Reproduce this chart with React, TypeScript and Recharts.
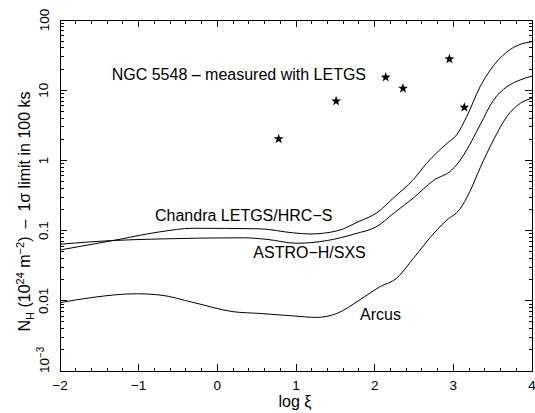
import React from 'react';
import { ComposedChart, Line, Scatter, XAxis, YAxis } from 'recharts';

const FONT = '"Liberation Sans", Arial, Helvetica, sans-serif';

// Chandra LETGS/HRC-S
const chandraX = [-2, -1.36, -0.73, -0.31, 0.54, 0.96, 1.18, 1.52, 1.8, 2.03, 2.25, 2.49, 2.66, 2.92, 3.04, 3.17, 3.34, 3.47, 3.68, 3.85, 4.0];
const chandraY = [0.053, 0.071, 0.096, 0.108, 0.106, 0.093, 0.0895, 0.099, 0.135, 0.18, 0.3, 0.53, 0.91, 1.75, 2.3, 4.2, 11.2, 19.4, 35, 45, 49];

// ASTRO-H/SXS
const astroX = [-2, -1.36, -0.73, 0.33, 0.63, 1.01, 1.39, 1.75, 2.03, 2.25, 2.49, 2.75, 2.98, 3.04, 3.17, 3.34, 3.51, 3.68, 3.85, 4.0];
const astroY = [0.064, 0.072, 0.076, 0.079, 0.075, 0.066, 0.072, 0.09, 0.115, 0.18, 0.29, 0.52, 0.73, 0.86, 1.41, 3.2, 7.2, 11.2, 14, 15.9];

// Arcus
const arcusX = [-2, -1.58, -1.03, -0.73, -0.31, 0.2, 0.54, 0.96, 1.26, 1.52, 1.81, 2.07, 2.28, 2.49, 2.79, 2.92, 3.08, 3.21, 3.34, 3.51, 3.68, 3.85, 4.0];
const arcusY = [0.0094, 0.0112, 0.0126, 0.0121, 0.0095, 0.007, 0.0066, 0.0061, 0.0058, 0.0066, 0.0103, 0.0159, 0.021, 0.04, 0.102, 0.142, 0.2, 0.36, 0.78, 1.95, 4.2, 6.5, 7.7];

// NGC 5548 measured with LETGS
const ngcX = [0.78, 1.51, 2.14, 2.36, 2.95, 3.14];
const ngcY = [2.02, 7.0, 15.3, 10.6, 27.8, 5.7];

const xMajorTicks = [-2, -1, 0, 1, 2, 3, 4];
const xTickLabels = ['\u22122', '\u22121', '0', '1', '2', '3', '4'];
const yMajorTicks = [0.001, 0.01, 0.1, 1, 10, 100];
const yTickLabels = ['10^-3', '0.01', '0.1', '1', '10', '100'];
const minorMultipliers = [2, 3, 4, 5, 6, 7, 8, 9];

const X_DOMAIN = [-2, 4];
const Y_DOMAIN = [0.001, 100];

const toPoints = (xs: number[], ys: number[]) => xs.map((x, i) => ({ x, y: ys[i] }));
const chandraData = toPoints(chandraX, chandraY);
const astroData = toPoints(astroX, astroY);
const arcusData = toPoints(arcusX, arcusY);
const ngcData = toPoints(ngcX, ngcY);

// layout
const W = 535;
const H = 413;
const PLOT = { left: 60, top: 20, right: 532, bottom: 371 };
const MAJ = 7;
const MIN = 3.5;

const xPx = (v: number) => PLOT.left + ((v - X_DOMAIN[0]) / (X_DOMAIN[1] - X_DOMAIN[0])) * (PLOT.right - PLOT.left);
const yPx = (v: number) => {
  const l0 = Math.log10(Y_DOMAIN[0]);
  const l1 = Math.log10(Y_DOMAIN[1]);
  return PLOT.bottom - ((Math.log10(v) - l0) / (l1 - l0)) * (PLOT.bottom - PLOT.top);
};

// frame + ticks (inward, all four sides) as one path
const buildFramePath = () => {
  const parts: string[] = [];
  parts.push(`M${PLOT.left},${PLOT.top}H${PLOT.right}V${PLOT.bottom}H${PLOT.left}Z`);
  for (let i = 0; i < xMajorTicks.length; i++) {
    const maj = xMajorTicks[i];
    const px = xPx(maj);
    parts.push(`M${px},${PLOT.bottom}v${-MAJ}M${px},${PLOT.top}v${MAJ}`);
    if (i < xMajorTicks.length - 1) {
      for (let k = 1; k < 5; k++) {
        const mx = xPx(maj + k * 0.2);
        parts.push(`M${mx},${PLOT.bottom}v${-MIN}M${mx},${PLOT.top}v${MIN}`);
      }
    }
  }
  for (let i = 0; i < yMajorTicks.length; i++) {
    const d = yMajorTicks[i];
    const py = yPx(d);
    parts.push(`M${PLOT.left},${py}h${MAJ}M${PLOT.right},${py}h${-MAJ}`);
    if (i < yMajorTicks.length - 1) {
      minorMultipliers.forEach((m) => {
        const my = yPx(d * m);
        parts.push(`M${PLOT.left},${my}h${MIN}M${PLOT.right},${my}h${-MIN}`);
      });
    }
  }
  return parts.join('');
};
const framePath = buildFramePath();

const BottomTick = (props: any) => {
  const { x, y, payload } = props;
  const idx = xMajorTicks.findIndex((t) => Math.abs(t - payload.value) < 1e-6);
  if (idx < 0) return null;
  return (
    <text x={x} y={y + 18.5} textAnchor="middle" fontSize={13.5} fontFamily={FONT} fill="#000">
      {xTickLabels[idx]}
    </text>
  );
};

const LeftTick = (props: any) => {
  const { x, y, payload } = props;
  const idx = yMajorTicks.findIndex((t) => Math.abs(Math.log10(t) - Math.log10(payload.value)) < 1e-6);
  if (idx < 0) return null;
  const lx = x - 11.5;
  const txt = yTickLabels[idx];
  if (txt === '10^-3') {
    return (
      <text x={lx} y={y + 2} textAnchor="start" fontSize={13.5} fontFamily={FONT} fill="#000" transform={`rotate(-90, ${lx}, ${y + 2})`}>
        10<tspan dy={-5} fontSize={10}>{'\u22123'}</tspan>
      </text>
    );
  }
  return (
    <text x={lx} y={y} textAnchor="middle" fontSize={13.5} fontFamily={FONT} fill="#000" transform={`rotate(-90, ${lx}, ${y})`}>
      {txt}
    </text>
  );
};

const StarShape = (props: any) => {
  const { cx, cy } = props;
  if (cx == null || cy == null) return null;
  const R = 5.2;
  const r = 2.1;
  const pts: string[] = [];
  for (let i = 0; i < 10; i++) {
    const a = -Math.PI / 2 + (i * Math.PI) / 5;
    const rr = i % 2 === 0 ? R : r;
    pts.push(`${cx + rr * Math.cos(a)},${cy + rr * Math.sin(a)}`);
  }
  return <polygon points={pts.join(' ')} fill="#000" stroke="none" />;
};

export default function App() {
  return (
    <div style={{ position: 'absolute', left: 0, top: 0, width: W, height: H, overflow: 'hidden', background: '#fff' }}>
      <ComposedChart width={W} height={H} margin={{ top: PLOT.top, right: W - PLOT.right, bottom: 0, left: 0 }}>
        <XAxis xAxisId="b" dataKey="x" type="number" domain={X_DOMAIN} allowDataOverflow ticks={xMajorTicks} interval={0} orientation="bottom" height={H - PLOT.bottom} tickSize={0} tickMargin={0} tickLine={false} tick={<BottomTick />} axisLine={false} />
        <YAxis yAxisId="l" dataKey="y" type="number" scale="log" domain={Y_DOMAIN} allowDataOverflow ticks={yMajorTicks} interval={0} orientation="left" width={PLOT.left} tickSize={0} tickMargin={0} tickLine={false} tick={<LeftTick />} axisLine={false} />
        <Line xAxisId="b" yAxisId="l" data={chandraData} dataKey="y" type="monotone" stroke="#000" strokeWidth={1} dot={false} activeDot={false} isAnimationActive={false} />
        <Line xAxisId="b" yAxisId="l" data={astroData} dataKey="y" type="monotone" stroke="#000" strokeWidth={1} dot={false} activeDot={false} isAnimationActive={false} />
        <Line xAxisId="b" yAxisId="l" data={arcusData} dataKey="y" type="monotone" stroke="#000" strokeWidth={1} dot={false} activeDot={false} isAnimationActive={false} />
        <Scatter xAxisId="b" yAxisId="l" data={ngcData} dataKey="y" shape={<StarShape />} isAnimationActive={false} />
        <path d={framePath} stroke="#000" strokeWidth={1} fill="none" shapeRendering="crispEdges" />
        <text x={111.7} y={80} fontSize={16} fontFamily={FONT} fill="#000">NGC 5548 – measured with LETGS</text>
        <text x={155} y={220.7} fontSize={16} fontFamily={FONT} fill="#000">Chandra LETGS/HRC{'\u2212'}S</text>
        <text x={253.3} y={258.3} fontSize={16} fontFamily={FONT} fill="#000">ASTRO{'\u2212'}H/SXS</text>
        <text x={360} y={320} fontSize={16} fontFamily={FONT} fill="#000">Arcus</text>
        <text x={295} y={406.5} fontSize={16} fontFamily={FONT} fill="#000" textAnchor="middle">log ξ</text>
        <text x={30} y={211.5} fontSize={16} fontFamily={FONT} fill="#000" textAnchor="middle" transform="rotate(-90, 30, 211.5)">
          N<tspan dy={4} fontSize={11}>H</tspan>
          <tspan dy={-4}> (10</tspan>
          <tspan dy={-6} fontSize={11}>24</tspan>
          <tspan dy={6}> m</tspan>
          <tspan dy={-6} fontSize={11}>{'\u22122'}</tspan>
          <tspan dy={6}>{')\u2002\u2013\u20021σ limit in 100 ks'}</tspan>
        </text>
      </ComposedChart>
    </div>
  );
}
